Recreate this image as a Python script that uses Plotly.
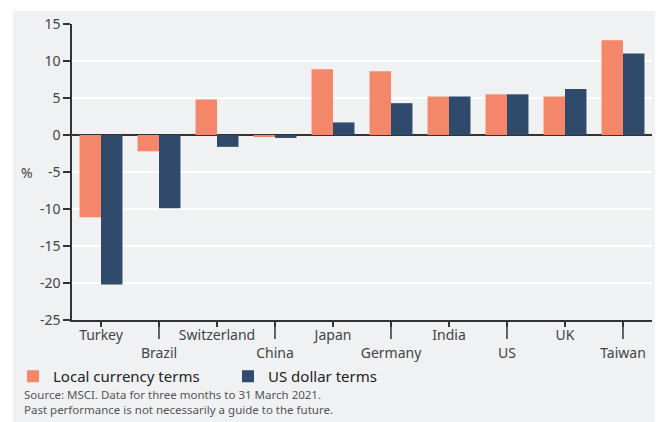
import plotly.graph_objects as go

categories = ["Turkey", "Brazil", "Switzerland", "China", "Japan",
              "Germany", "India", "US", "UK", "Taiwan"]
local_currency = [-11.1, -2.2, 4.8, -0.2, 8.9, 8.6, 5.2, 5.5, 5.2, 12.8]
us_dollar = [-20.2, -9.9, -1.6, -0.4, 1.7, 4.3, 5.2, 5.5, 6.2, 11.0]
y_ticks = [15, 10, 5, 0, -5, -10, -15, -20, -25]
y_ticklabels = ["15", "10", "5", "0", "-5", "-10", "-15", "-20", "-25"]

ORANGE = "#f4866a"
BLUE = "#2f4a6b"
BG = "#f0f1f3"
FONT = "Noto Sans"

# page body has an 8px margin, so the figure is laid out 8px smaller
OFF = 8
W, H = 663 - OFF, 422 - OFF
L, R, T, B = 72 - OFF, 11, 24 - OFF, 102
pw, ph = W - L - R, H - T - B

ticktext = [c if i % 2 == 0 else "<br>" + c for i, c in enumerate(categories)]

fig = go.Figure()
fig.add_trace(go.Bar(x=categories, y=local_currency, name="Local currency terms",
                     marker=dict(color=ORANGE, line=dict(width=0))))
fig.add_trace(go.Bar(x=categories, y=us_dollar, name="US dollar terms",
                     marker=dict(color=BLUE, line=dict(width=0))))

shapes = []
# white strips outside the grey panel
shapes.append(dict(type="rect", xref="paper", yref="paper", layer="below",
                   x0=-L / pw, x1=-(L - 5) / pw, y0=-B / ph, y1=1 + T / ph,
                   fillcolor="white", line=dict(width=0)))
shapes.append(dict(type="rect", xref="paper", yref="paper", layer="below",
                   x0=-L / pw, x1=1 + R / pw, y0=1 + (T - 3) / ph, y1=1 + T / ph,
                   fillcolor="white", line=dict(width=0)))
# long ticks for staggered labels
for i, c in enumerate(categories):
    if i % 2 == 1:
        shapes.append(dict(type="line", xref="x", yref="paper", x0=c, x1=c,
                           y0=0, y1=-19 / ph, line=dict(color="#333333", width=1.5)))

fig.update_layout(
    width=W, height=H,
    margin=dict(l=L, r=R, t=T, b=B, autoexpand=False),
    paper_bgcolor=BG, plot_bgcolor=BG,
    barmode="group", bargap=0.26, bargroupgap=0,
    font=dict(family=FONT, color="#444444", size=14),
    shapes=shapes,
    showlegend=True,
    legend=dict(orientation="h", x=-(L - 5) / pw, xanchor="left",
                y=-(352 - 312) / ph, yanchor="top",
                font=dict(size=15, color="#222222", family=FONT),
                itemwidth=30, tracegroupgap=0, bgcolor="rgba(0,0,0,0)",
                entrywidth=170, entrywidthmode="pixels"),
    xaxis=dict(tickmode="array", tickvals=categories, ticktext=ticktext,
               tickangle=0, automargin=False, ticklabelstandoff=-4,
               showgrid=False, showline=True, linecolor="#333333", linewidth=1.5,
               ticks="outside", ticklen=5, tickwidth=1.5, tickcolor="#333333",
               tickfont=dict(size=14, color="#444444"), fixedrange=True),
    yaxis=dict(range=[-25, 15], tickmode="array", tickvals=y_ticks,
               ticktext=y_ticklabels, automargin=False, showgrid=True,
               gridcolor="white", gridwidth=1.5,
               zeroline=True, zerolinecolor="#333333", zerolinewidth=1.5,
               showline=True, linecolor="#333333", linewidth=1.5,
               ticks="outside", ticklen=7, tickwidth=1.5, tickcolor="#333333",
               tickfont=dict(size=14, color="#444444"), fixedrange=True),
    annotations=[
        dict(text="%", xref="paper", yref="paper", x=-(L - 11) / pw, xanchor="left",
             y=(312 - 164) / ph, yanchor="middle", showarrow=False,
             font=dict(size=14, color="#444444")),
        dict(text="Source: MSCI. Data for three months to 31 March 2021.<br>"
                  "Past performance is not necessarily a guide to the future.",
             xref="paper", yref="paper", x=-(L - 15) / pw, xanchor="left",
             y=-(378 - 312) / ph, yanchor="top", align="left", showarrow=False,
             borderpad=0, font=dict(size=11.5, color="#555555")),
    ],
)

fig.write_html("out.html")
